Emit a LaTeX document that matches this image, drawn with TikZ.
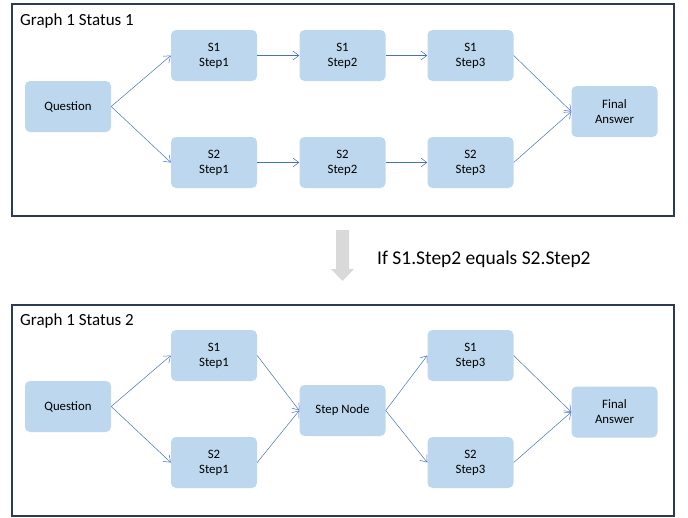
\documentclass[tikz,border=0pt]{standalone}
\usepackage{fontspec}
\setmainfont{Carlito}
\usetikzlibrary{arrows.meta}

\definecolor{boxblue}{HTML}{BDD7EE}
\definecolor{linkblue}{HTML}{4472C4}
\definecolor{framenavy}{HTML}{2B3A55}
\definecolor{hintgray}{HTML}{D9D9D9}

\tikzset{
  stepbox/.style={fill=boxblue, rounded corners=5pt, minimum width=86pt, minimum height=51pt,
    align=center, font=\fontsize{12.8}{15}\selectfont, inner sep=0pt},
  panel/.style={draw=framenavy, line width=1.3pt},
  link/.style={draw=linkblue, line width=0.5pt, -{Straight Barb[length=6pt,width=9pt]}},
  paneltitle/.style={anchor=base west, font=\fontsize{17}{20}\selectfont, inner sep=0pt}
}

\begin{document}
\begin{tikzpicture}[x=1pt,y=-1pt]
    \useasboundingbox (0,0) rectangle (688,517);

    % status 1
    \draw[panel] (12,4) rectangle (674,216);
    \node[paneltitle] (t1) at (20,25.5) {Graph 1 Status 1};
    \node[stepbox] (q1) at (68,106.5) {Question};
    \node[stepbox] (a11) at (214,55.5) {S1\\Step1};
    \node[stepbox] (a12) at (342.5,55.5) {S1\\Step2};
    \node[stepbox] (a13) at (470.5,55.5) {S1\\Step3};
    \node[stepbox] (b11) at (214,162.5) {S2\\Step1};
    \node[stepbox] (b12) at (342.5,162.5) {S2\\Step2};
    \node[stepbox] (b13) at (470.5,162.5) {S2\\Step3};
    \node[stepbox] (f1) at (614.5,111.5) {Final\\Answer};
    \draw[link] (q1.east) -- (a11.west);
    \draw[link] (q1.east) -- (b11.west);
    \draw[link] (a11) -- (a12);
    \draw[link] (a12) -- (a13);
    \draw[link] (b11) -- (b12);
    \draw[link] (b12) -- (b13);
    \draw[link] (a13.east) -- (f1.west);
    \draw[link] (b13.east) -- (f1.west);

    % transition
    \fill[hintgray] (336,230) -- (349,230) -- (349,269) -- (354,269) -- (342.5,281)
        -- (331,269) -- (336,269) -- cycle;
    \node[anchor=base west, font=\fontsize{19.5}{22}\selectfont, inner sep=0pt] (cond) at (377,264)
        {If S1.Step2 equals S2.Step2};

    % status 2
    \draw[panel] (12,305) rectangle (674,516);
    \node[paneltitle] (t2) at (20,325.5) {Graph 1 Status 2};
    \node[stepbox] (q2) at (68,406.5) {Question};
    \node[stepbox] (a21) at (214,355.5) {S1\\Step1};
    \node[stepbox] (b21) at (214,462.5) {S2\\Step1};
    \node[stepbox] (m2) at (342.5,410.5) {Step Node};
    \node[stepbox] (a23) at (470.5,355.5) {S1\\Step3};
    \node[stepbox] (b23) at (470.5,462.5) {S2\\Step3};
    \node[stepbox] (f2) at (614.5,412) {Final\\Answer};
    \draw[link] (q2.east) -- (a21.west);
    \draw[link] (q2.east) -- (b21.west);
    \draw[link] (a21.east) -- (m2.west);
    \draw[link] (b21.east) -- (m2.west);
    \draw[link] (m2.east) -- (a23.west);
    \draw[link] (m2.east) -- (b23.west);
    \draw[link] (a23.east) -- (f2.west);
    \draw[link] (b23.east) -- (f2.west);
\end{tikzpicture}
\end{document}
